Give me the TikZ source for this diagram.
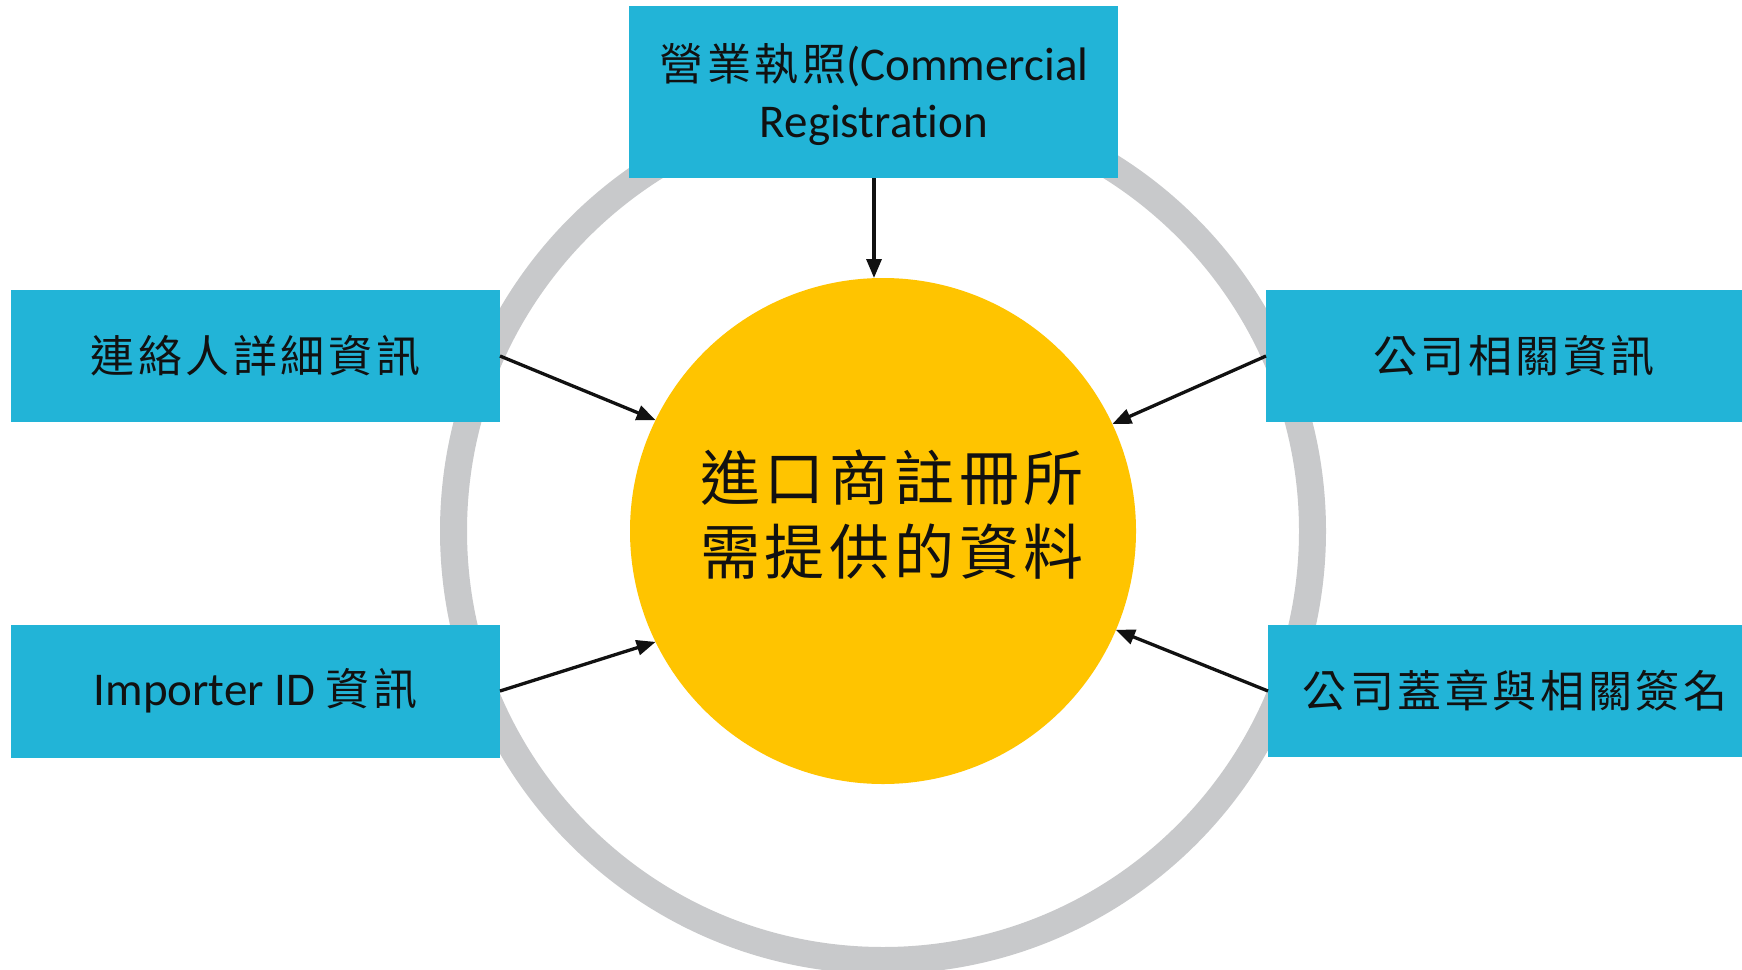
\documentclass[tikz,border=0pt]{standalone}
\usepackage{fontspec}
\setmainfont{Carlito}[Ligatures=NoCommon]
\newfontfamily\cjk{Noto Sans CJK TC}[LetterSpace=8]
\usetikzlibrary{arrows.meta}
\definecolor{boxblue}{RGB}{34,180,215}
\definecolor{sun}{RGB}{255,196,0}
\definecolor{ringgray}{RGB}{200,201,203}
\definecolor{ink}{RGB}{17,17,17}
\newcommand\cj[1]{{\fontsize{44}{57}\selectfont\cjk #1}}
\begin{document}
\begin{tikzpicture}[x=1pt,y=-1pt,
  infobox/.style={fill=boxblue, inner sep=0pt, outer sep=0pt, align=center,
    font=\fontsize{47}{57}\selectfont, text=ink},
  conn/.style={line width=3.3pt, draw=ink, -{Triangle[length=19pt,width=15pt]}}]
\useasboundingbox (0,0) rectangle (1742,969);
\clip (0,0) rectangle (1742,969);
\fill[white] (0,0) rectangle (1742,969);
% grey ring
\draw[ringgray, line width=27pt] (883,531) circle[radius=429.5pt];
% boxes
\node[infobox, minimum width=489pt, minimum height=172pt] (top) at (873.5,92) {};
\node[font=\fontsize{47}{57}\selectfont, text=ink, align=center, inner sep=0pt] (toptext) at (874,95) {\cj{營業執照}(Commercial\\Registration};
\node[infobox, minimum width=489pt, minimum height=132pt] (ul) at (255.5,356) {\cj{連絡人詳細資訊}};
\node[infobox, minimum width=489pt, minimum height=133pt] (ll) at (255.5,691) {Importer ID \cj{資訊}};
\node[infobox, minimum width=496pt, minimum height=132pt] (ur) at (1514,356) {\cj{公司相關資訊}};
\node[infobox, minimum width=494pt, minimum height=132pt] (lr) at (1515,691) {\cj{公司蓋章與相關簽名}};
% central circle
\node[circle, fill=sun, minimum size=506pt, inner sep=0pt, outer sep=0pt] (yc) at (883,531) {};
\node[font=\fontsize{60}{74}\selectfont\cjk, text=ink, align=center, inner sep=0pt] (ct) at (892,515) {進口商註冊所\\需提供的資料};
% connectors
\draw[conn] (top.south -| toptext.center) -- (toptext.center |- yc.north);
\draw[conn] (ul.east) -- (yc.154.4);
\draw[conn] (ll.east) -- (yc.206);
\draw[conn] (ur.west) -- (yc.25.2);
\draw[conn] (lr.west) -- (yc.337.8);
\end{tikzpicture}
\end{document}
